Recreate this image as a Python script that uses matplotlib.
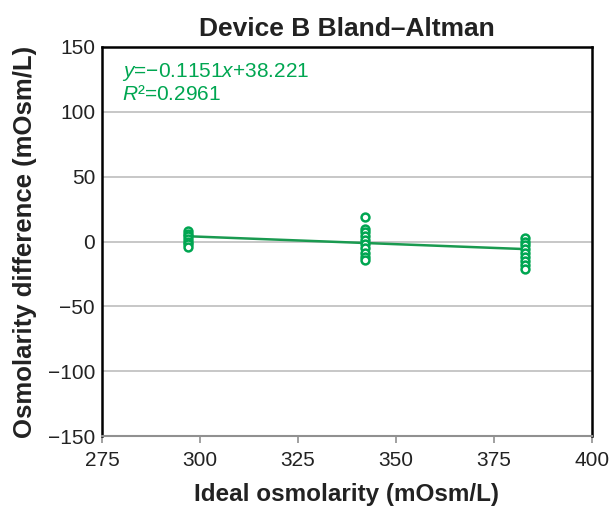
import matplotlib
matplotlib.use("Agg")
import matplotlib.pyplot as plt

plt.rcParams['font.family'] = ['Liberation Sans', 'DejaVu Sans']
plt.rcParams['mathtext.fontset'] = 'custom'
plt.rcParams['mathtext.rm'] = 'Liberation Sans'
plt.rcParams['mathtext.it'] = 'Liberation Sans:italic'

# measured values per ideal osmolarity level
x_297 = [297] * 7
y_297 = [8, 6, 4, 2, 0, -2, -4]
x_342 = [342] * 10
y_342 = [19, 10, 7, 4, 1, -2, -5, -9, -12, -14]
x_383 = [383] * 9
y_383 = [3, 0, -3, -6, -9, -12, -15, -18, -21]

slope = -0.1151
intercept = 38.221
fit_x = [297, 383]

green = '#00a651'

fig = plt.figure(figsize=(6.09, 5.08), dpi=100)
ax = fig.add_axes([0.1675, 0.1417, 0.8045, 0.7658])

for v in range(-100, 151, 50):
    ax.axhline(v, color='#bdbdbd', lw=1.2, zorder=1)

xs = x_297 + x_342 + x_383
ys = y_297 + y_342 + y_383
ax.scatter(xs, ys, s=32, facecolors='white', edgecolors=green, linewidths=1.8, zorder=3)
ax.plot(fit_x, [slope * v + intercept for v in fit_x], color='#1a9a50', lw=1.8, zorder=2)

ax.set_xlim(275, 400)
ax.set_ylim(-150, 150)
ax.set_xticks([275, 300, 325, 350, 375, 400])
ax.set_yticks([-150, -100, -50, 0, 50, 100, 150])
ax.set_yticklabels(['\u2212150', '\u2212100', '\u221250', '0', '50', '100', '150'])

for s in ['top', 'left', 'right']:
    ax.spines[s].set_color('black')
    ax.spines[s].set_linewidth(1.8)
ax.spines['bottom'].set_color('#909090')
ax.spines['bottom'].set_linewidth(1.5)
ax.tick_params(axis='x', colors='#909090', labelcolor='#222222', labelsize=15, length=5, width=1.2, pad=6)
ax.tick_params(axis='y', length=0, labelsize=15, labelcolor='#222222', pad=5)

ax.set_title('Device B Bland\u2013Altman', fontsize=19, fontweight='bold', pad=8, color='#222222')
ax.set_xlabel('Ideal osmolarity (mOsm/L)', fontsize=17.5, fontweight='bold', labelpad=9, color='#222222')
ax.set_ylabel('Osmolarity difference (mOsm/L)', fontsize=18.5, fontweight='bold', labelpad=8, color='#222222')

ax.text(0.04, 0.965, '$y$=\u22120.1151$x$+38.221\n$R$\u00b2=0.2961', transform=ax.transAxes,
        color=green, fontsize=15, va='top', ha='left', linespacing=1.15)

fig.savefig('out.png', dpi=100)
